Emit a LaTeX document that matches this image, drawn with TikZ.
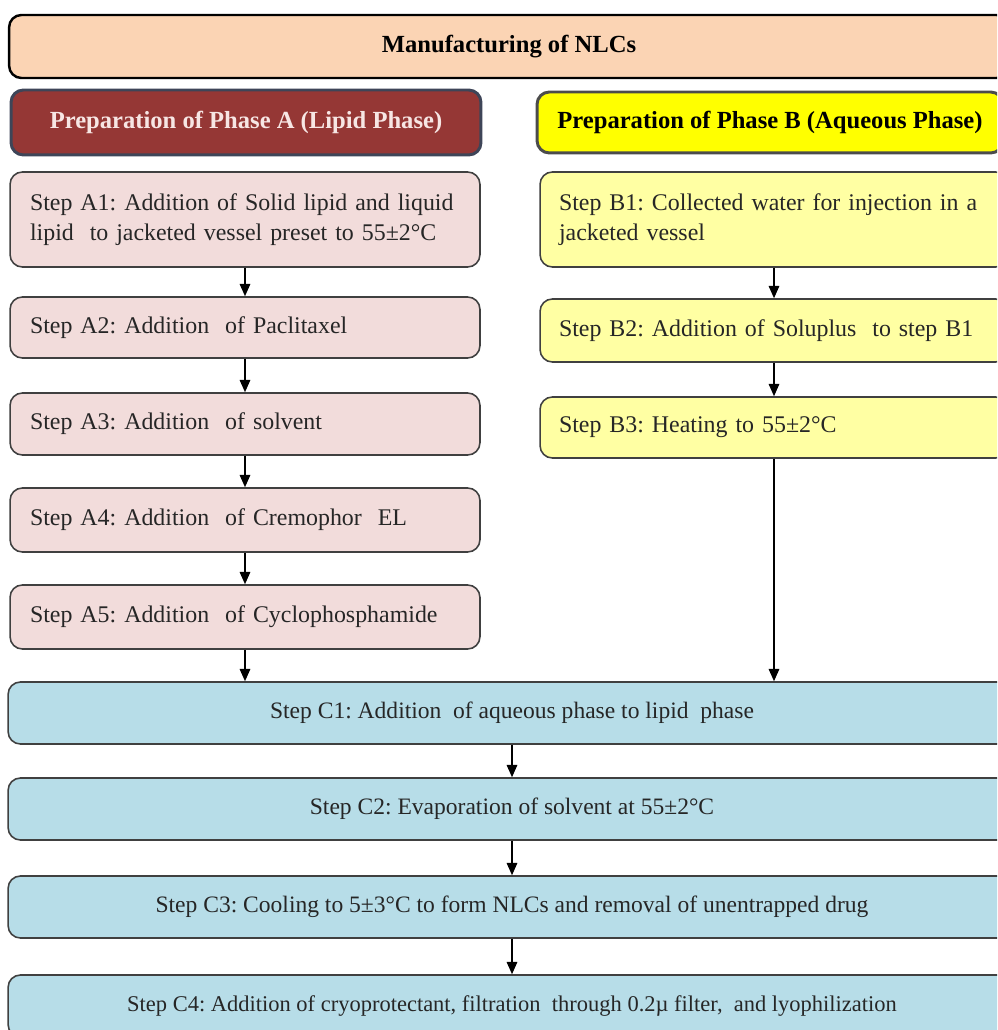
\documentclass[tikz,border=0pt]{standalone}
\usepackage{fontspec}
\setmainfont{Liberation Serif}
\usetikzlibrary{arrows.meta}
\frenchspacing

\definecolor{titlefill}{HTML}{FBD4B4}
\definecolor{lipidhead}{HTML}{953735}
\definecolor{lipidfill}{HTML}{F2DCDB}
\definecolor{lipidtext}{HTML}{F7E6E4}
\definecolor{aqhead}{HTML}{FFFF00}
\definecolor{aqfill}{HTML}{FFFFA3}
\definecolor{mixfill}{HTML}{B7DDE8}
\definecolor{edgegray}{HTML}{404040}
\definecolor{headedge}{HTML}{3E4558}

\tikzset{
  box/.style={draw=edgegray,line width=0.9pt,rounded corners=7pt,text=black!85,
    font=\fontsize{13.6}{17}\selectfont},
  headbox/.style={draw=headedge,line width=1.7pt,rounded corners=7pt,
    font=\fontsize{14}{17}\selectfont\bfseries},
  lipidstep/.style={box,fill=lipidfill,text width=8.6cm,inner xsep=0.4cm,align=left},
  aqstep/.style={box,fill=aqfill,text width=8.6cm,inner xsep=0.38cm,align=left},
  mixstep/.style={box,fill=mixfill,minimum width=20.16cm,minimum height=1.24cm,
    font=\fontsize{13.4}{17}\selectfont},
  flow/.style={-{Triangle[length=7pt,width=6pt]},line width=0.85pt}
}

\begin{document}
\begin{tikzpicture}[x=0.02cm,y=-0.02cm]
  \useasboundingbox (0,0) rectangle (997,1030);
  \clip (0,0) rectangle (997,1030);

  % title and the two phase headers
  \node[draw=black,line width=1.4pt,rounded corners=7pt,fill=titlefill,
    minimum width=20cm,minimum height=1.26cm,font=\fontsize{14}{17}\selectfont\bfseries]
    (title) at (509,46.5) {Manufacturing of NLCs};
  \node[headbox,fill=lipidhead,text=lipidtext,minimum width=9.4cm,minimum height=1.3cm]
    (headA) at (246,122.5) {Preparation of Phase A (Lipid Phase)};
  \node[headbox,draw=black!70,fill=aqhead,minimum width=9.32cm,minimum height=1.22cm]
    (headB) at (770,122.5) {Preparation of Phase B (Aqueous Phase)};

  % lipid phase
  \node[lipidstep,minimum height=1.9cm] (A1) at (245,219.5)
    {Step A1: Addition of Solid lipid and liquid\\lipid\ \ to jacketed vessel preset to 55±2°C};
  \node[lipidstep,minimum height=1.22cm] (A2) at (245,327.5) {Step A2: Addition\ \ of Paclitaxel};
  \node[lipidstep,minimum height=1.24cm] (A3) at (245,424) {Step A3: Addition\ \ of solvent};
  \node[lipidstep,minimum height=1.28cm] (A4) at (245,520) {Step A4: Addition\ \ of Cremophor\ \ EL};
  \node[lipidstep,minimum height=1.28cm] (A5) at (245,617) {Step A5: Addition\ \ of Cyclophosphamide};

  % aqueous phase
  \node[aqstep,minimum height=1.9cm] (B1) at (774,219.5)
    {Step B1: Collected water for injection in a\\jacketed vessel};
  \node[aqstep,minimum height=1.26cm] (B2) at (774,330.5) {Step B2: Addition of Soluplus\ \ to step B1};
  \node[aqstep,minimum height=1.22cm] (B3) at (774,427.5) {Step B3: Heating to 55±2°C};

  % combined steps
  \node[mixstep] (C1) at (512,713) {Step C1: Addition\ \ of aqueous phase to lipid\ \ phase};
  \node[mixstep] (C2) at (512,809) {Step C2: Evaporation of solvent at 55±2°C};
  \node[mixstep] (C3) at (512,907) {Step C3: Cooling to 5±3°C to form NLCs and removal of unentrapped drug};
  \node[mixstep,font=\fontsize{12.8}{17}\selectfont] (C4) at (512,1006)
    {Step C4: Addition of cryoprotectant, filtration\ \ through 0.2µ filter,\ \ and lyophilization};

  \foreach \a/\b in {A1/A2,A2/A3,A3/A4,A4/A5,B1/B2,B2/B3,C1/C2,C2/C3,C3/C4}
    \draw[flow] (\a) -- (\b);
  \draw[flow] (A5.south) -- (A5.south |- C1.north);
  \draw[flow] (B3.south) -- (B3.south |- C1.north);
\end{tikzpicture}
\end{document}
